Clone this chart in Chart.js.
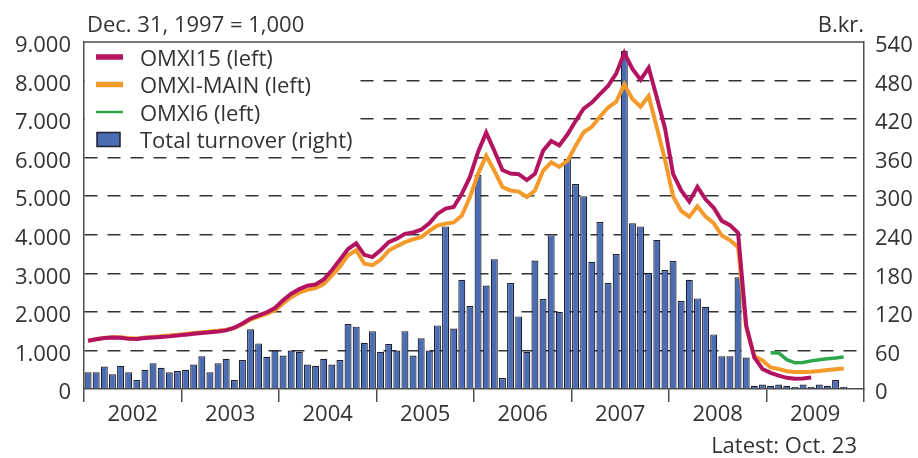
<!DOCTYPE html>
<html>
<head>
<meta charset="utf-8">
<script src="https://cdn.jsdelivr.net/npm/chart.js@4.4.0/dist/chart.umd.min.js"></script>
<style>
  html, body { margin: 0; padding: 0; background: #fff; }
  #wrap { width: 918px; height: 458px; position: relative; }
</style>
</head>
<body>
<div id="wrap"><canvas id="omxiChart"></canvas></div>
<script>
var years = ['2002', '2003', '2004', '2005', '2006', '2007', '2008', '2009'];
var months = [];
years.forEach(function(y) {
  for (var m = 1; m <= 12; m++) months.push(y + '-' + (m < 10 ? '0' + m : m));
});

// Total turnover, B.kr. (right axis), Jan 2002 - Oct 2009
var turnover = [
  26, 26, 35, 23, 36, 26, 14, 30, 40, 33, 26, 28,
  30, 38, 51, 26, 40, 47, 14, 45, 93, 71, 50, 60,
  52, 60, 58, 38, 36, 47, 38, 45, 101, 97, 72, 90,
  58, 70, 60, 90, 52, 79, 60, 99, 253, 94, 170, 129,
  333, 161, 202, 17, 165, 113, 58, 200, 140, 239, 120, 358,
  319, 300, 198, 260, 165, 210, 526, 258, 253, 181, 232, 185,
  199, 137, 170, 141, 128, 85, 51, 51, 174, 49, 5, 7,
  5, 7, 5, 3, 7, 3, 7, 5, 14, 3
];
// OMXI15 (left), ends mid 2009
var omxi15 = [
  1250, 1290, 1320, 1335, 1330, 1300, 1295, 1320, 1335, 1350, 1365, 1385,
  1410, 1430, 1450, 1470, 1490, 1520, 1590, 1700, 1830, 1910, 1990, 2100,
  2300, 2470, 2590, 2680, 2710, 2840, 3080, 3350, 3630, 3780, 3480, 3420,
  3600, 3810, 3900, 4025, 4060, 4130, 4300, 4540, 4680, 4720, 5060, 5500,
  6150, 6650, 6180, 5680, 5590, 5570, 5420, 5580, 6180, 6430, 6320, 6600,
  6950, 7270, 7430, 7650, 7860, 8180, 8720, 8300, 8020, 8330, 7560, 6770,
  5580, 5150, 4860, 5240, 4920, 4700, 4360, 4250, 4050, 1650, 820, 520,
  420, 345, 290, 265, 270, 300
];
// OMXI-MAIN (left)
var omxiMain = [
  1250, 1290, 1320, 1340, 1340, 1320, 1310, 1335, 1350, 1370, 1385, 1405,
  1430, 1450, 1470, 1490, 1510, 1535, 1580, 1680, 1800, 1880, 1950, 2040,
  2220, 2380, 2500, 2570, 2620, 2720, 2940, 3180, 3470, 3600, 3250, 3210,
  3350, 3590, 3700, 3810, 3880, 3940, 4100, 4240, 4290, 4320, 4500, 4980,
  5580, 6050, 5660, 5240, 5150, 5120, 4980, 5150, 5660, 5880, 5760, 5920,
  6300, 6660, 6800, 7060, 7300, 7450, 7900, 7520, 7320, 7600, 6780, 5950,
  5000, 4620, 4470, 4740, 4470, 4300, 3980, 3860, 3680, 1600, 850, 740,
  560, 520, 460, 440, 440, 445, 465, 490, 510, 530
];
// OMXI6 (left), starts Jan 2009
var omxi6Start = 84;
var omxi6 = [940, 935, 760, 680, 690, 730, 760, 785, 805, 830];

var leftUnit = 'Dec. 31, 1997 = 1,000';
var rightUnit = 'B.kr.';
var latestNote = 'Latest: Oct. 23';

var textColor = '#333333';
var axisColor = '#4d4d4d';
var fontFamily = '"Open Sans", sans-serif';

var omxi6Data = months.map(function(m, i) {
  return i >= omxi6Start && i - omxi6Start < omxi6.length ? omxi6[i - omxi6Start] : null;
});

// legend box, frame top and the three texts round the plot
var notes = {
  id: 'notes',
  beforeDatasetsDraw: function(chart) {
    var ctx = chart.ctx, area = chart.chartArea;
    ctx.save();
    ctx.fillStyle = '#ffffff';
    ctx.fillRect(area.left + 1, area.top + 1, 268, 110);
    ctx.restore();
  },
  afterDraw: function(chart) {
    var ctx = chart.ctx, area = chart.chartArea;
    ctx.save();
    ctx.strokeStyle = axisColor;
    ctx.lineWidth = 1.5;
    ctx.beginPath();
    ctx.moveTo(area.left, area.top);
    ctx.lineTo(area.right, area.top);
    ctx.stroke();

    ctx.font = '22px ' + fontFamily;
    ctx.fillStyle = textColor;
    ctx.textBaseline = 'alphabetic';
    ctx.textAlign = 'left';
    ctx.fillText(leftUnit, 87, 32);
    ctx.textAlign = 'right';
    ctx.fillText(rightUnit, area.right, 32);
    ctx.fillText(latestNote, 857, 453);

    // legend
    ctx.textAlign = 'left';
    chart.data.datasets.forEach(function(ds, i) {
      var base = area.top + 23.5 + 27.5 * i;
      var cy = base - 8.5;
      var x0 = area.left + 12;
      if (ds.type === 'line') {
        ctx.strokeStyle = ds.borderColor;
        ctx.lineWidth = ds.legendLineWidth;
        ctx.beginPath();
        ctx.moveTo(x0, cy);
        ctx.lineTo(x0 + 27, cy);
        ctx.stroke();
      } else {
        ctx.fillStyle = ds.backgroundColor;
        ctx.fillRect(x0 + 1, cy - 7, 23, 14);
        ctx.strokeStyle = ds.borderColor;
        ctx.lineWidth = 1.5;
        ctx.strokeRect(x0 + 1, cy - 7, 23, 14);
      }
      ctx.fillStyle = textColor;
      ctx.fillText(ds.label, area.left + 56, base);
    });
    ctx.restore();
  }
};

var tickFont = { family: fontFamily, size: 22 };

new Chart(document.getElementById('omxiChart'), {
  type: 'bar',
  data: {
    labels: months,
    datasets: [{
      type: 'line',
      label: 'OMXI15 (left)',
      data: omxi15,
      yAxisID: 'y',
      borderColor: '#b3135f',
      borderWidth: 4,
      legendLineWidth: 5.5,
      pointRadius: 0,
      tension: 0,
      order: 1
    }, {
      type: 'line',
      label: 'OMXI-MAIN (left)',
      data: omxiMain,
      yAxisID: 'y',
      borderColor: '#f39a2b',
      borderWidth: 4,
      legendLineWidth: 5.5,
      pointRadius: 0,
      tension: 0,
      order: 2
    }, {
      type: 'line',
      label: 'OMXI6 (left)',
      data: omxi6Data,
      yAxisID: 'y',
      borderColor: '#2aa84a',
      borderWidth: 3.5,
      legendLineWidth: 2.5,
      pointRadius: 0,
      tension: 0,
      order: 3
    }, {
      type: 'bar',
      label: 'Total turnover (right)',
      data: turnover,
      yAxisID: 'y1',
      backgroundColor: '#4a6cb3',
      borderColor: '#1d2130',
      borderWidth: 1.2,
      barPercentage: 1,
      categoryPercentage: 0.86,
      order: 10
    }]
  },
  options: {
    animation: false,
    responsive: true,
    maintainAspectRatio: false,
    layout: { padding: { top: 42, left: 0, right: 0, bottom: 0 } },
    plugins: { legend: { display: false }, tooltip: { enabled: false } },
    scales: {
      x: {
        offset: true,
        grid: {
          offset: true,
          drawOnChartArea: false,
          drawTicks: true,
          tickLength: 13,
          lineWidth: 1.5,
          color: function(c) {
            return (c.index === undefined || c.index % 12 === 0) ? axisColor : 'rgba(0,0,0,0)';
          }
        },
        border: { display: true, color: axisColor, width: 1.5 },
        ticks: {
          autoSkip: false,
          maxRotation: 0,
          minRotation: 0,
          padding: 0,
          labelOffset: 4,
          color: textColor,
          font: tickFont,
          callback: function(v, i) { return i % 12 === 5 ? years[Math.floor(i / 12)] : ''; }
        },
        afterFit: function(s) { s.height = 69; }
      },
      y: {
        position: 'left',
        min: 0,
        max: 9000,
        grid: {
          drawTicks: false,
          lineWidth: 1.5,
          color: function(c) {
            var v = c.tick ? c.tick.value : 0;
            return (v === 0 || v === 9000) ? 'rgba(0,0,0,0)' : '#333333';
          }
        },
        border: { display: true, color: axisColor, width: 1.5, dash: [13, 10] },
        ticks: {
          stepSize: 1000,
          padding: 13,
          labelOffset: 4,
          color: textColor,
          font: tickFont,
          callback: function(v) { return v === 0 ? '0' : (v / 1000) + '.000'; }
        },
        afterFit: function(s) { s.width = 84; }
      },
      y1: {
        position: 'right',
        min: 0,
        max: 540,
        grid: { drawOnChartArea: false, drawTicks: false },
        border: { display: true, color: axisColor, width: 1.5 },
        ticks: {
          stepSize: 60,
          padding: 11,
          labelOffset: 4,
          color: textColor,
          font: tickFont
        },
        afterFit: function(s) { s.width = 54; }
      }
    }
  },
  plugins: [notes]
});
</script>
</body>
</html>
